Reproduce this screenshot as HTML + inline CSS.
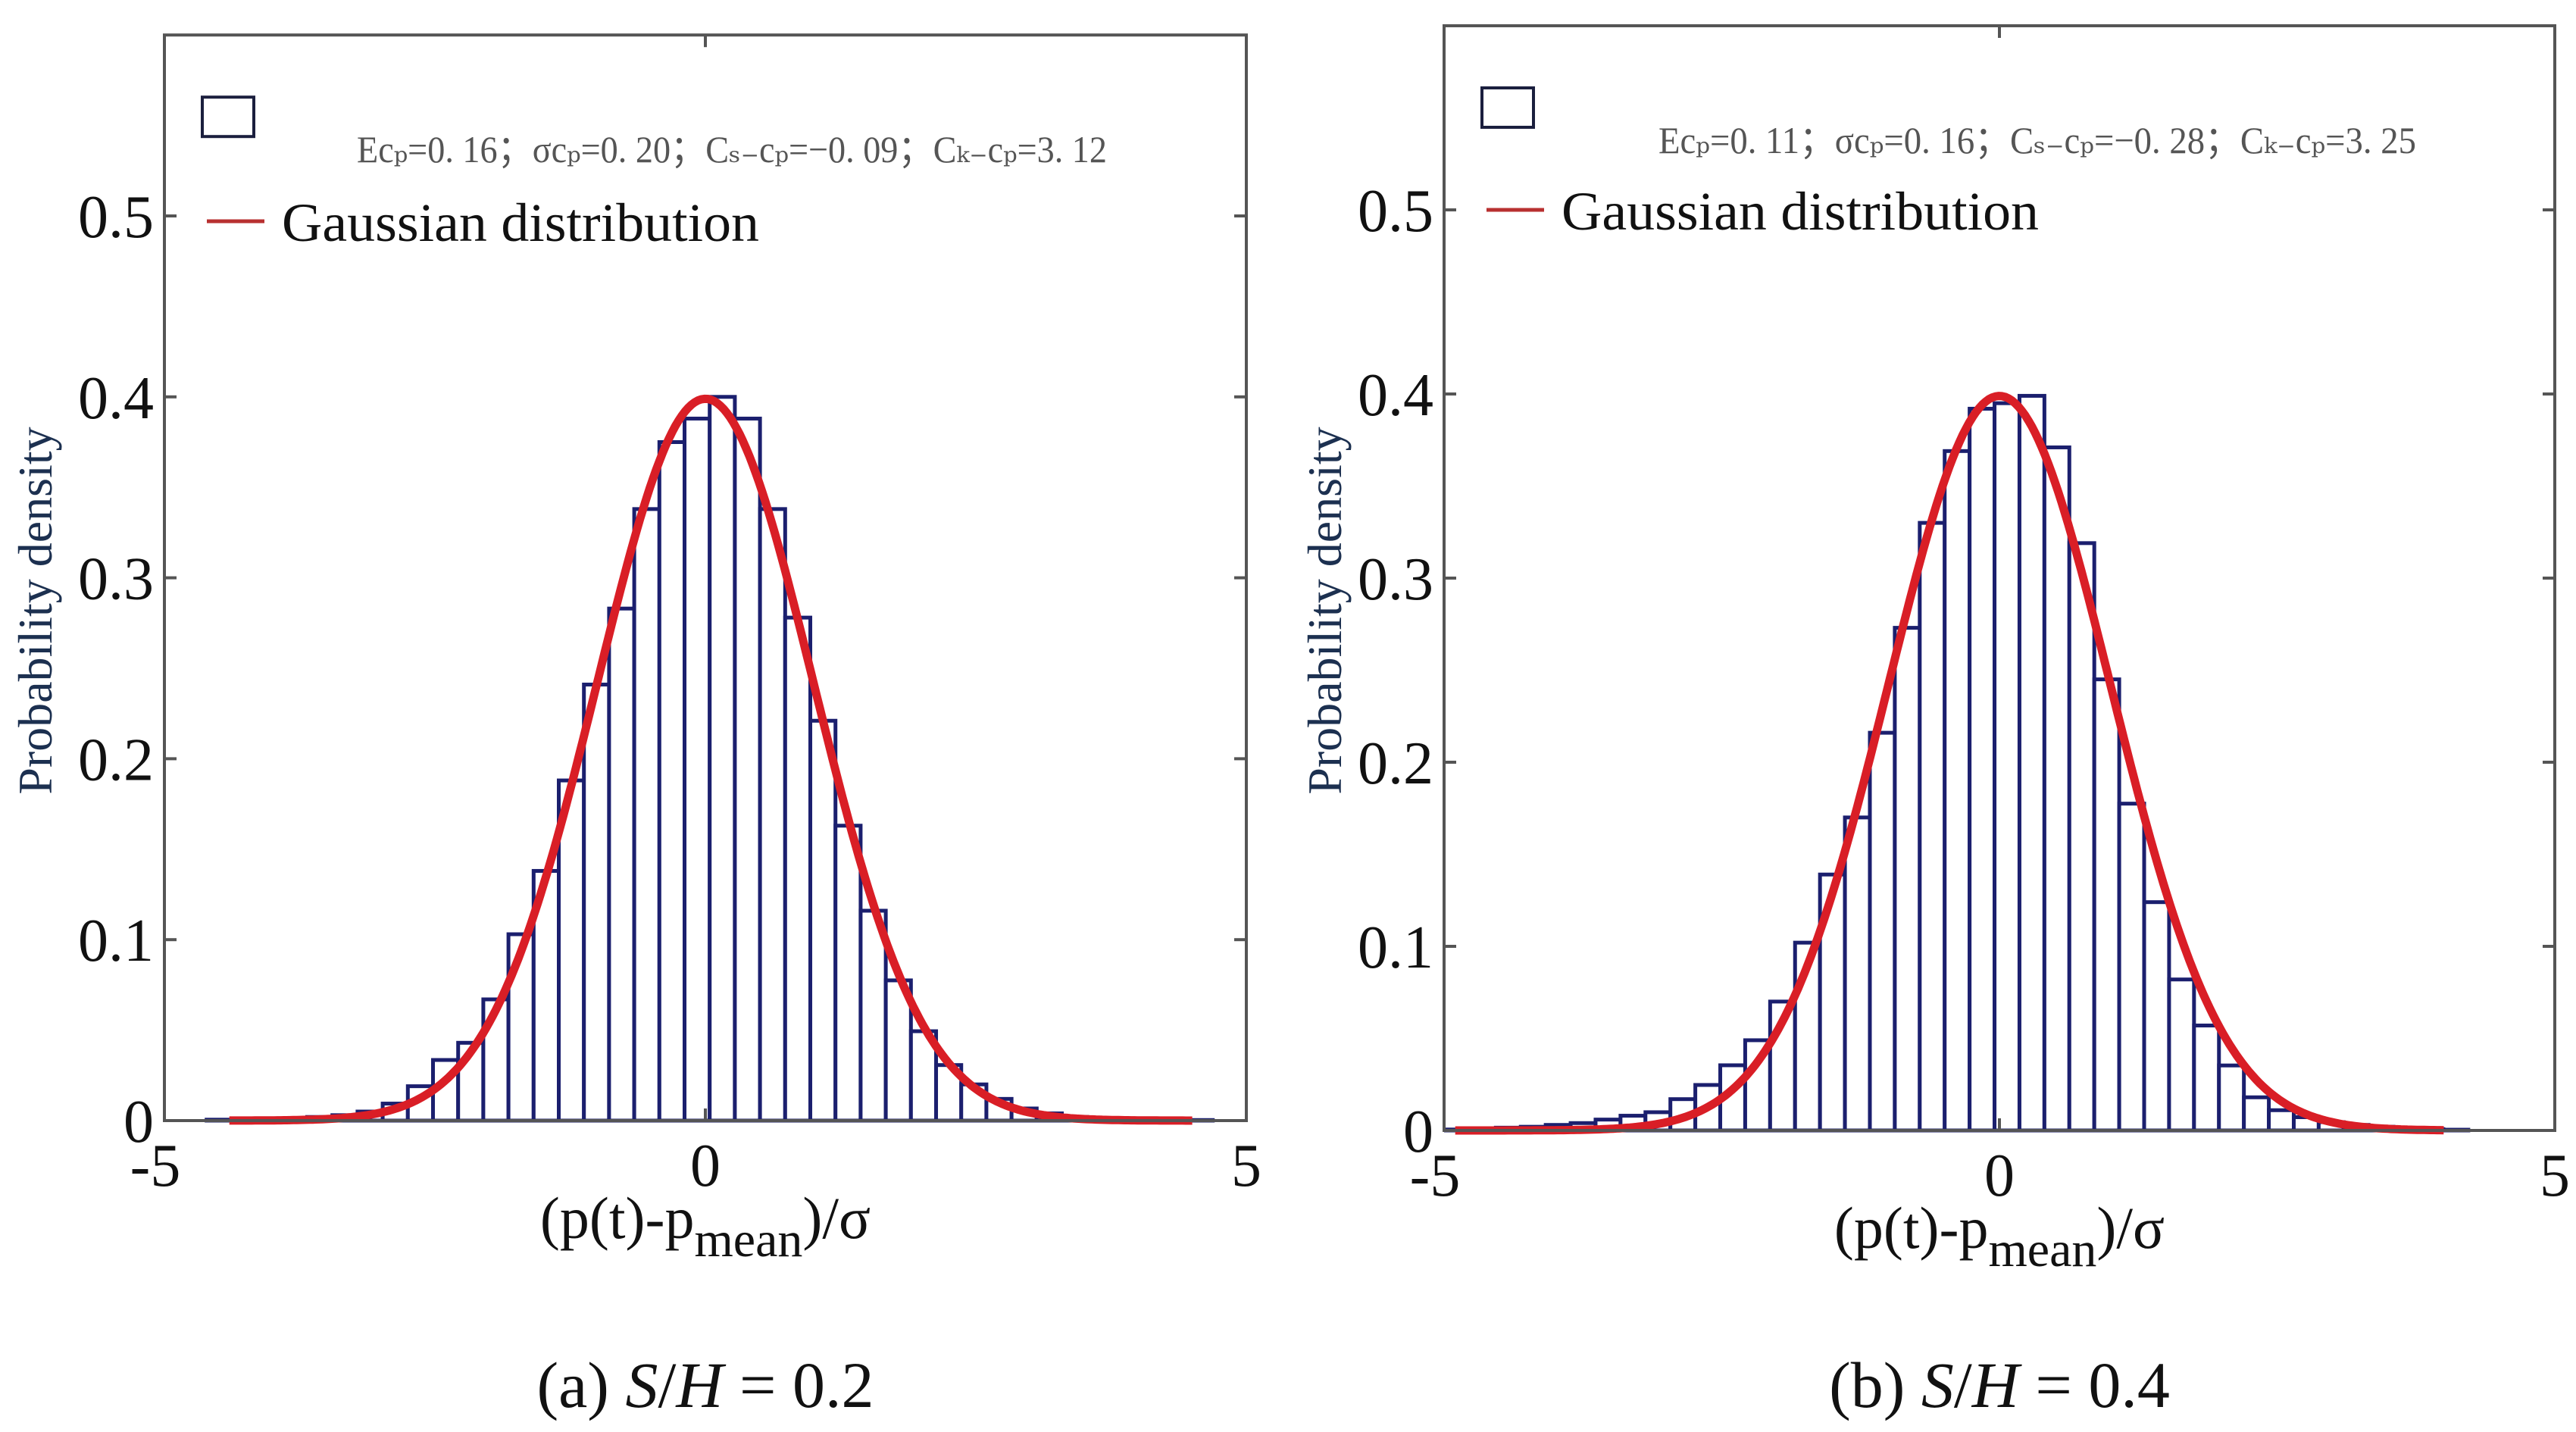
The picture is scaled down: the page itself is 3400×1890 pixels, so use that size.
<!DOCTYPE html>
<html><head><meta charset="utf-8">
<style>
html,body{margin:0;padding:0;background:#fff;}
svg{display:block;}
text{font-family:"Liberation Serif","DejaVu Serif",serif;}
</style></head>
<body>
<svg id="fig" width="3400" height="1890" viewBox="0 0 3400 1890" xmlns="http://www.w3.org/2000/svg"></svg>
<script>
// ---- Data: panel (a) ----
const binStartA = -4.61;
const binWidthA = 0.2325;
const densityA = [0.0005,0.0005,0.001,0.001,0.002,0.003,0.005,
  0.0094,0.019,0.0335,0.043,0.067,0.103,0.138,0.188,0.241,0.283,0.338,0.375,0.388,0.400,
  0.388,0.338,0.278,0.221,0.163,0.116,0.0775,0.0494,0.0307,0.020,0.012,0.0067,
  0.004,0.002,0.001,0.001,0.0005,0.0005,0.0003];
const gaussMuA = [0];
const gaussSigmaA = [1];
const curveRangeA = [-4.4, 4.5];
const statsA = "Ecₚ=0. 16；σcₚ=0. 20；Cₛ₋cₚ=−0. 09；Cₖ₋cₚ=3. 12";

// ---- Data: panel (b) ----
const binStartB = -4.983;
const binWidthB = 0.2245;
const densityB = [0.0005,0.001,0.0015,0.002,0.003,0.004,
  0.0059,0.008,0.0099,0.017,0.0247,0.0354,0.049,0.070,0.102,0.139,0.170,0.216,0.273,0.330,0.369,0.392,0.395,0.399,
  0.371,0.319,0.245,0.1775,0.124,0.082,0.057,0.0353,0.018,0.011,0.0072,0.0045,
  0.003,0.002,0.001,0.0007,0.0004];
const gaussMuB = [0];
const gaussSigmaB = [1];
const curveRangeB = [-4.9, 4.0];
const statsB = "Ecₚ=0. 11；σcₚ=0. 16；Cₛ₋cₚ=−0. 28；Cₖ₋cₚ=3. 25";

const yTicks = [0, 0.1, 0.2, 0.3, 0.4, 0.5];
const yTickLabels = ["0", "0.1", "0.2", "0.3", "0.4", "0.5"];
const xTicks = [-5, 0, 5];
const xTickLabels = ["-5", "0", "5"];

const NS = "http://www.w3.org/2000/svg";
const svg = document.getElementById('fig');
function mk(tag, attrs, parent){
  const e = document.createElementNS(NS, tag);
  for (const k in attrs) e.setAttribute(k, attrs[k]);
  (parent || svg).appendChild(e);
  return e;
}

function panel(cfg){
  const g = mk('g', {});
  
  
  const X = v => cfg.left + (v + 5) / 10 * (cfg.right - cfg.left);
  const Y = v => cfg.y0 - v * cfg.perUnit;
  const top = Y(0.6);

  const bars = mk('g', {}, g);
  
  
  cfg.density.forEach((d, i) => {
    const x0 = X(cfg.binStart + i * cfg.binWidth);
    const x1 = X(cfg.binStart + (i + 1) * cfg.binWidth);
    const r = mk('rect', {x: x0, y: Y(d), width: x1 - x0, height: Math.max(cfg.y0 - Y(d), 0.5),
      fill: '#fff', stroke: '#1b1f6e', 'stroke-width': 5}, bars);
    
    
  });

  let dpath = '';
  const n = 300;
  for (let k = 0; k <= n; k++){
    const x = cfg.curve[0] + (cfg.curve[1] - cfg.curve[0]) * k / n;
    const mu = cfg.mu[0], s = cfg.sigma[0];
    const y = Math.exp(-0.5 * ((x - mu) / s) ** 2) / (s * Math.sqrt(2 * Math.PI));
    dpath += (k ? 'L' : 'M') + X(x).toFixed(1) + ',' + Y(y).toFixed(1);
  }
  const c = mk('path', {d: dpath, fill: 'none', stroke: '#d91e26', 'stroke-width': 11, 'stroke-linejoin': 'round'}, g);
  
  

  const fr = mk('rect', {x: cfg.left, y: top, width: cfg.right - cfg.left, height: cfg.y0 - top,
    fill: 'none', stroke: '#555', 'stroke-width': 4}, g);
  
  

  yTicks.forEach((t, i) => {
    mk('line', {x1: cfg.left, x2: cfg.left + 16, y1: Y(t), y2: Y(t), stroke: '#555', 'stroke-width': 4}, g);
    mk('line', {x1: cfg.right - 16, x2: cfg.right, y1: Y(t), y2: Y(t), stroke: '#555', 'stroke-width': 4}, g);
    const tl = mk('text', {x: cfg.left - 14, y: Y(t) + 28, 'text-anchor': 'end', 'font-size': 80, fill: '#111'}, g);
    tl.textContent = yTickLabels[i];
    
    
  });
  xTicks.forEach((t, i) => {
    mk('line', {x1: X(t), x2: X(t), y1: top, y2: top + 16, stroke: '#555', 'stroke-width': 4}, g);
    mk('line', {x1: X(t), x2: X(t), y1: cfg.y0 - 16, y2: cfg.y0, stroke: '#555', 'stroke-width': 4}, g);
    const tl = mk('text', {x: X(t) + (t < 0 ? -12 : 0), y: cfg.y0 + 86, 'text-anchor': 'middle', 'font-size': 80, fill: '#111'}, g);
    tl.textContent = xTickLabels[i];
    
    
  });

  const lb = mk('rect', {x: cfg.left + 50, y: top + 82, width: 68, height: 52, fill: '#fff', stroke: '#1b1f3e', 'stroke-width': 4}, g);
  
  
  const st = mk('text', {x: cfg.statsX, y: top + 168, 'font-size': 50, fill: '#555', textLength: cfg.statsW, lengthAdjust: 'spacingAndGlyphs'}, g);
  st.textContent = cfg.stats;
  
  
  const ll = mk('line', {x1: cfg.left + 56, x2: cfg.left + 132, y1: cfg.legY, y2: cfg.legY, stroke: '#b83030', 'stroke-width': 5}, g);
  
  
  const lt = mk('text', {x: cfg.left + 155, y: cfg.legY + 26, 'font-size': 72, fill: '#111', textLength: cfg.legW, lengthAdjust: 'spacingAndGlyphs'}, g);
  lt.textContent = 'Gaussian distribution';
  
  

  const yt = mk('text', {x: 0, y: 0, transform: `translate(${cfg.ylabX},806) rotate(-90)`, 'text-anchor': 'middle', 'font-size': 64, fill: '#1c3050'}, g);
  yt.textContent = 'Probability density';
  
  

  const xt = mk('text', {x: X(0), y: cfg.y0 + 155, 'text-anchor': 'middle', 'font-size': 78, fill: '#111'}, g);
  
  
  const s1 = mk('tspan', {}, xt); s1.textContent = '(p(t)-p';
  const s2 = mk('tspan', {dy: 24, 'font-size': 66}, xt); s2.textContent = 'mean';
  const s3 = mk('tspan', {dy: -24}, xt); s3.textContent = ')/σ';

  const cap = mk('text', {x: X(0), y: 1857, 'text-anchor': 'middle', 'font-size': 86, fill: '#111'}, g);
  
  
  const c1 = mk('tspan', {}, cap); c1.textContent = cfg.capLetter + ' ';
  const c2 = mk('tspan', {'font-style': 'italic'}, cap); c2.textContent = 'S';
  const c3 = mk('tspan', {}, cap); c3.textContent = '/';
  const c4 = mk('tspan', {'font-style': 'italic'}, cap); c4.textContent = 'H';
  const c5 = mk('tspan', {}, cap); c5.textContent = ' = ' + cfg.capVal;
}

panel({name: 'panel-a', left: 217, right: 1645, y0: 1479, perUnit: 2388,
  binStart: binStartA, binWidth: binWidthA, density: densityA, mu: gaussMuA, sigma: gaussSigmaA,
  curve: curveRangeA, stats: statsA, statsX: 471, statsW: 990, legY: 292, legW: 630, ylabX: 68,
  capLetter: '(a)', capVal: '0.2'});
panel({name: 'panel-b', left: 1906, right: 3372, y0: 1492, perUnit: 2430,
  binStart: binStartB, binWidth: binWidthB, density: densityB, mu: gaussMuB, sigma: gaussSigmaB,
  curve: curveRangeB, stats: statsB, statsX: 2189, statsW: 1000, legY: 277, legW: 630, ylabX: 1770,
  capLetter: '(b)', capVal: '0.4'});
</script>
</body></html>
